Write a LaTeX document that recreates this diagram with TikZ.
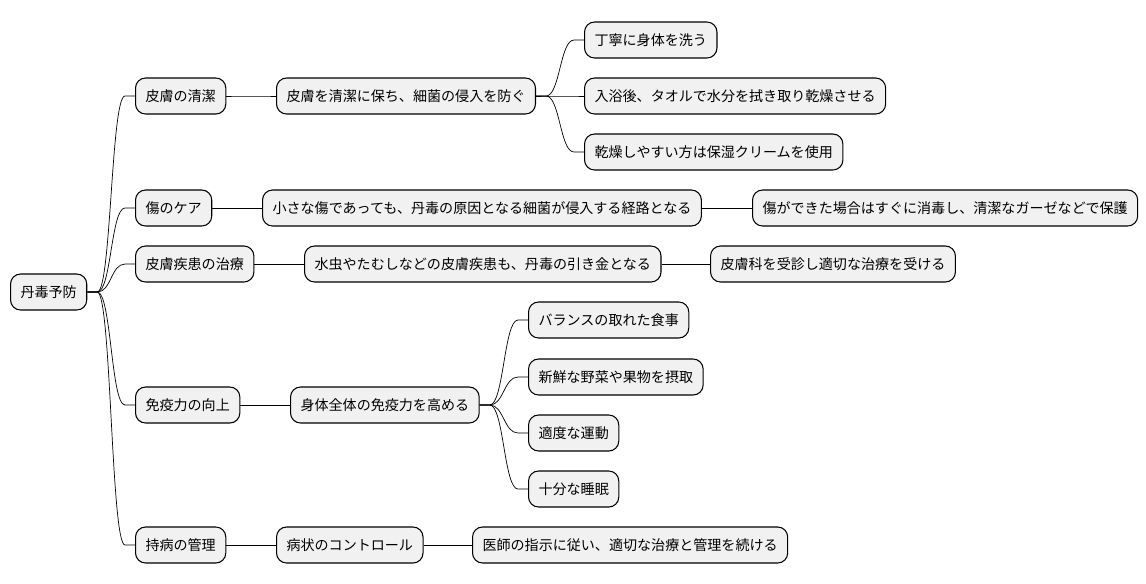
\documentclass[tikz,border=0pt]{standalone}
\usepackage{fontspec}
\setmainfont{Noto Sans CJK JP}
\usetikzlibrary{calc}
\definecolor{boxgray}{HTML}{F1F1F1}

\tikzset{
  topic/.style={draw=black,fill=boxgray,rounded corners=0.2cm,line width=0.6pt,
    minimum height=0.72cm,inner xsep=0.2cm,inner ysep=0pt,anchor=west,
    font=\fontsize{8}{10}\selectfont},
  branch/.style={line width=0.5pt,to path={-- ++(10,0)
    .. controls +(14,0) and ($(\tikztotarget)+(-24,0)$) .. ($(\tikztotarget)+(-10,0)$)
    -- (\tikztotarget)}}
}

\begin{document}
\begin{tikzpicture}[x=0.02cm,y=-0.02cm]
  \useasboundingbox (0,0) rectangle (1146,583);

  % root
  \node[topic] (root) at (10,292) {丹毒予防};

  % first level
  \node[topic] (clean) at (135,96) {皮膚の清潔};
  \node[topic] (wound) at (135,208) {傷のケア};
  \node[topic] (skin) at (135,264) {皮膚疾患の治療};
  \node[topic] (immune) at (135,405) {免疫力の向上};
  \node[topic] (chronic) at (135,545) {持病の管理};

  % second level
  \node[topic] (cleanA) at (276,96) {皮膚を清潔に保ち、細菌の侵入を防ぐ};
  \node[topic] (woundA) at (262,208) {小さな傷であっても、丹毒の原因となる細菌が侵入する経路となる};
  \node[topic] (skinA) at (304,264) {水虫やたむしなどの皮膚疾患も、丹毒の引き金となる};
  \node[topic] (immuneA) at (290,405) {身体全体の免疫力を高める};
  \node[topic] (chronicA) at (276,545) {病状のコントロール};

  % third level
  \node[topic] (wash) at (584,40) {丁寧に身体を洗う};
  \node[topic] (dry) at (584,96) {入浴後、タオルで水分を拭き取り乾燥させる};
  \node[topic] (cream) at (584,152) {乾燥しやすい方は保湿クリームを使用};
  \node[topic] (disinfect) at (752,208) {傷ができた場合はすぐに消毒し、清潔なガーゼなどで保護};
  \node[topic] (doctor) at (710,264) {皮膚科を受診し適切な治療を受ける};
  \node[topic] (diet) at (528,320) {バランスの取れた食事};
  \node[topic] (veg) at (528,377) {新鮮な野菜や果物を摂取};
  \node[topic] (exercise) at (528,433) {適度な運動};
  \node[topic] (sleep) at (528,489) {十分な睡眠};
  \node[topic] (followup) at (472,545) {医師の指示に従い、適切な治療と管理を続ける};

  % branches
  \foreach \a/\b in {root/clean,root/wound,root/skin,root/immune,root/chronic,
    clean/cleanA,wound/woundA,skin/skinA,immune/immuneA,chronic/chronicA,
    cleanA/wash,cleanA/dry,cleanA/cream,woundA/disinfect,skinA/doctor,
    immuneA/diet,immuneA/veg,immuneA/exercise,immuneA/sleep,chronicA/followup}
    \draw (\a.east) to[branch] (\b.west);
\end{tikzpicture}
\end{document}
